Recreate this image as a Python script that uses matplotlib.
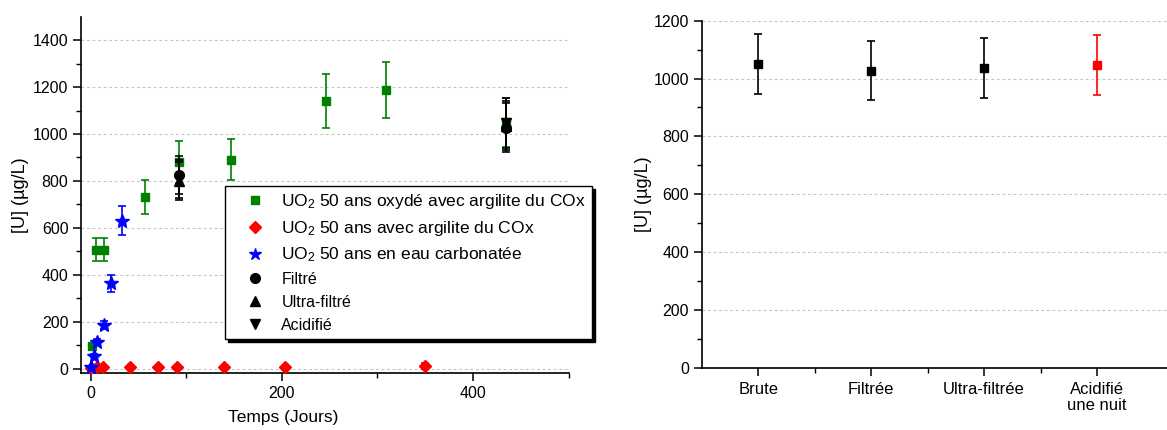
import matplotlib
matplotlib.use("Agg")
import matplotlib.pyplot as plt
from matplotlib.lines import Line2D
from matplotlib.ticker import MultipleLocator, FixedLocator

plt.rcParams['font.family'] = ['Liberation Sans', 'DejaVu Sans']
plt.rcParams['mathtext.fontset'] = 'custom'
plt.rcParams['mathtext.rm'] = 'Liberation Sans'
plt.rcParams['mathtext.it'] = 'Liberation Sans:italic'

# UO2 50 ans oxyde avec argilite du COx
ox_t = [2, 6, 14, 57, 93, 147, 246, 309, 434]
ox_u = [98, 507, 507, 731, 880, 891, 1141, 1188, 1050]
ox_err = [10, 50, 50, 72, 88, 89, 114, 119, 105]

# UO2 50 ans avec argilite du COx
arg_t = [0.3, 7, 13, 41, 71, 90, 140, 203, 350]
arg_u = [3, 5, 5, 5, 6, 6, 8, 8, 12]
arg_err = [0, 0, 0, 0, 0, 0, 0, 0, 12]

# UO2 50 ans en eau carbonatee
carb_t = [0.5, 4, 7, 14, 21, 33]
carb_u = [8, 55, 114, 186, 363, 630]
carb_err = [1, 6, 11, 18, 35, 62]

# filtre / ultra-filtre / acidifie (black points)
sep_t = [93, 434]
fil_u = [826, 1027]
fil_err = [82, 103]
ultra_u = [800, 1036]
ultra_err = [80, 104]
acid_u = [810, 1047]
acid_err = [81, 105]

# right panel
cat_labels = ['Brute', 'Filtrée', 'Ultra-filtrée', 'Acidifié\nune nuit']
cat_u = [1050, 1027, 1036, 1047]
cat_err = [105, 102, 104, 105]
cat_colors = ['black', 'black', 'black', 'red']

legend_labels = ['UO$_2$ 50 ans oxydé avec argilite du COx',
                 'UO$_2$ 50 ans avec argilite du COx',
                 'UO$_2$ 50 ans en eau carbonatée',
                 'Filtré', 'Ultra-filtré', 'Acidifié']

GREEN = '#008000'
RED = '#ff0000'
BLUE = '#0000ff'
GRID_KW = dict(color='#c4c4c4', linestyle=(0, (2.5, 2.5)), linewidth=0.8)


def style_axes(ax):
    for side in ('top', 'right'):
        ax.spines[side].set_visible(False)
    for side in ('left', 'bottom'):
        ax.spines[side].set_linewidth(1.2)
    ax.tick_params(which='major', direction='out', length=6, width=1.1,
                   labelsize=11.5, pad=3)
    ax.tick_params(which='minor', direction='out', length=3.5, width=1.0)
    ax.yaxis.grid(True, which='major', **GRID_KW)
    ax.set_axisbelow(True)


fig = plt.figure(figsize=(11.67, 4.3), dpi=100)

# ---- left panel: kinetics
ax1 = fig.add_axes([0.0694, 0.1319, 0.4179, 0.8293])
style_axes(ax1)
eb = dict(ls='none', capsize=3, elinewidth=1.2, capthick=1.2)
ax1.errorbar(ox_t, ox_u, yerr=ox_err, marker='s', ms=6, color=GREEN,
             ecolor=GREEN, zorder=3, **eb)
ax1.errorbar(arg_t, arg_u, yerr=arg_err, marker='D', ms=6, color=RED,
             ecolor=RED, zorder=3, **eb)
ax1.errorbar(carb_t, carb_u, yerr=carb_err, marker='*', ms=10, color=BLUE,
             ecolor=BLUE, zorder=3, **eb)
ax1.errorbar(sep_t, fil_u, yerr=fil_err, marker='o', ms=7, color='black',
             zorder=4, **eb)
ax1.errorbar(sep_t, ultra_u, yerr=ultra_err, marker='^', ms=7, color='black',
             zorder=4, **eb)
ax1.errorbar(sep_t, acid_u, yerr=acid_err, marker='v', ms=7, color='black',
             zorder=4, **eb)

ax1.set_xlim(-10, 500)
ax1.set_ylim(-20, 1500)
ax1.xaxis.set_major_locator(FixedLocator([0, 200, 400]))
ax1.xaxis.set_minor_locator(FixedLocator([100, 300, 500]))
ax1.yaxis.set_major_locator(FixedLocator(range(0, 1401, 200)))
ax1.yaxis.set_minor_locator(FixedLocator(range(100, 1500, 200)))
ax1.set_xlabel('Temps (Jours)', fontsize=12.5)
ax1.xaxis.set_label_coords(0.415, -0.103)
ax1.set_ylabel('[U] (µg/L)', fontsize=13)
ax1.yaxis.set_label_coords(-0.106, 0.5)

handles = [
    Line2D([], [], ls='none', marker='s', ms=5.5, color=GREEN),
    Line2D([], [], ls='none', marker='D', ms=6, color=RED),
    Line2D([], [], ls='none', marker='*', ms=9, color=BLUE),
    Line2D([], [], ls='none', marker='o', ms=7, color='black'),
    Line2D([], [], ls='none', marker='^', ms=7, color='black'),
    Line2D([], [], ls='none', marker='v', ms=7, color='black'),
]
leg = ax1.legend(handles, legend_labels, loc='upper left',
                 bbox_to_anchor=(0.295, 0.525), fontsize=12.5,
                 frameon=True, fancybox=False, edgecolor='black',
                 framealpha=1, shadow={'color': 'black', 'alpha': 1},
                 handlelength=2.8, handletextpad=0.1, labelspacing=0.45,
                 borderpad=0.35, borderaxespad=0)
leg.get_frame().set_linewidth(1.0)
for t in leg.get_texts()[3:]:
    t.set_fontsize(11.5)

# ---- right panel: filtration
ax2 = fig.add_axes([0.6013, 0.1449, 0.3987, 0.8070])
style_axes(ax2)
xs = list(range(1, len(cat_labels) + 1))
for x, u, e, c in zip(xs, cat_u, cat_err, cat_colors):
    ax2.errorbar([x], [u], yerr=[e], marker='s', ms=6, color=c, ecolor=c,
                 zorder=3, **eb)
ax2.set_xlim(0.5, 4.62)
ax2.set_ylim(0, 1200)
ax2.xaxis.set_major_locator(FixedLocator(xs))
ax2.xaxis.set_minor_locator(FixedLocator([1.5, 2.5, 3.5]))
ax2.set_xticklabels(cat_labels, fontsize=12, linespacing=1.15)
ax2.tick_params(axis='x', which='major', pad=4)
ax2.yaxis.set_major_locator(MultipleLocator(200))
ax2.yaxis.set_minor_locator(MultipleLocator(100))
ax2.set_ylabel('[U] (µg/L)', fontsize=13)
ax2.yaxis.set_label_coords(-0.107, 0.5)

fig.savefig('out.png', dpi=100)
